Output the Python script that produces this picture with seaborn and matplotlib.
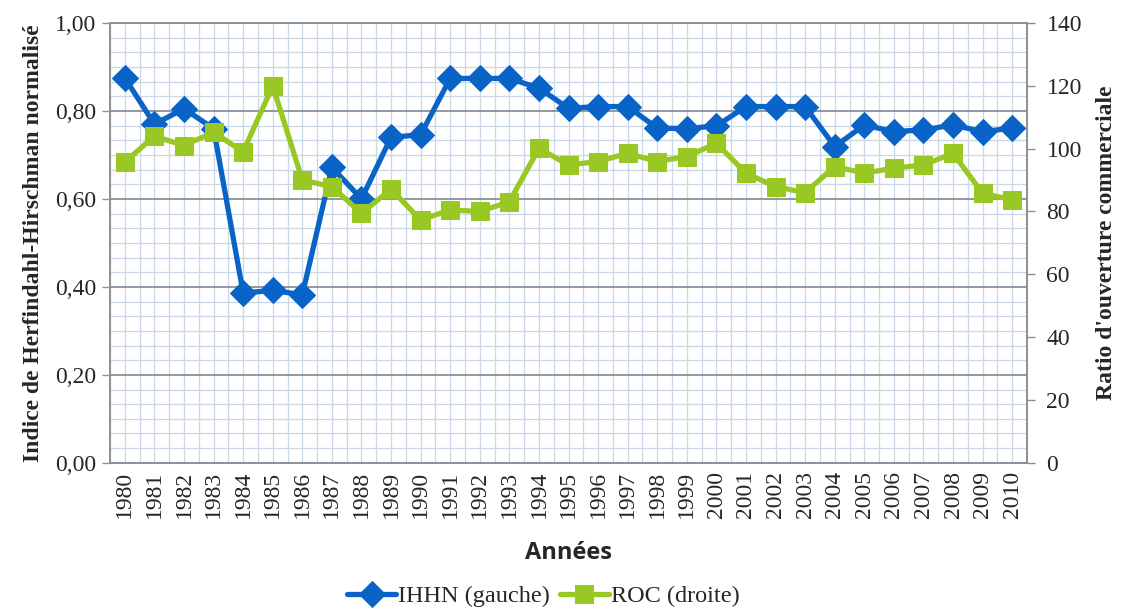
import numpy as np
import pandas as pd
import matplotlib.pyplot as plt
import matplotlib.ticker as mticker
import seaborn as sns

# Données
annees = list(range(1980, 2011))
ihhn = [0.875, 0.77, 0.805, 0.76, 0.386, 0.392, 0.382, 0.672, 0.600, 0.740,
        0.746, 0.874, 0.874, 0.874, 0.852, 0.806, 0.810, 0.810, 0.761, 0.760,
        0.766, 0.810, 0.810, 0.810, 0.719, 0.768, 0.753, 0.757, 0.768, 0.753,
        0.761]
roc = [95.7, 104.0, 101.0, 105.2, 99.0, 120.0, 90.0, 87.9, 79.4, 87.1,
       77.3, 80.5, 80.0, 83.1, 100.1, 94.8, 95.9, 98.5, 95.9, 97.5,
       101.7, 92.2, 87.9, 86.0, 94.3, 92.2, 93.8, 94.8, 98.5, 85.8,
       83.7]

BLEU = '#0a64c8'
VERT = '#99c824'
GRILLE_MIN = '#c9d7e6'
GRILLE_MAJ = '#8a8f96'

sns.set_theme(style='white')
plt.rcParams['font.family'] = ['Liberation Serif', 'DejaVu Serif']

df = pd.DataFrame({'pos': np.arange(len(annees)), 'IHHN': ihhn, 'ROC': roc})

fig = plt.figure(figsize=(11.23, 6.13), dpi=100)
ax1 = fig.add_axes([0.098, 0.245, 0.8165, 0.7175])
ax2 = ax1.twinx()

sns.lineplot(data=df, x='pos', y='IHHN', ax=ax1, color=BLEU, linewidth=3.8,
             marker='D', markersize=13, markeredgecolor=BLEU, label='IHHN (gauche)',
             legend=False, zorder=5)
sns.lineplot(data=df, x='pos', y='ROC', ax=ax2, color=VERT, linewidth=3.8,
             marker='s', markersize=12.5, markeredgecolor=VERT, label='ROC (droite)',
             legend=False, zorder=5)

# axe X : étiquettes au centre, graduations entre les catégories
ax1.set_xlim(-0.5, len(annees) - 0.5)
ax1.xaxis.set_major_locator(mticker.FixedLocator(np.arange(-0.5, len(annees), 1.0)))
ax1.xaxis.set_major_formatter(mticker.NullFormatter())
ax1.xaxis.set_minor_locator(mticker.FixedLocator(np.arange(len(annees))))
ax1.xaxis.set_minor_formatter(mticker.FixedFormatter([str(a) for a in annees]))
ax1.tick_params(axis='x', which='major', length=6, width=1, color=GRILLE_MAJ, direction='out')
ax1.tick_params(axis='x', which='minor', length=0, labelsize=17, rotation=90, pad=6)

# axe Y gauche
ax1.set_ylim(0, 1.0)
ax1.yaxis.set_major_locator(mticker.MultipleLocator(0.2))
ax1.yaxis.set_minor_locator(mticker.MultipleLocator(1 / 30))
ax1.yaxis.set_major_formatter(mticker.FuncFormatter(lambda v, p: f'{v:.2f}'.replace('.', ',')))
ax1.tick_params(axis='y', which='major', length=6, width=1, color=GRILLE_MAJ,
                direction='out', labelsize=17, pad=4)
ax1.tick_params(axis='y', which='minor', length=0)

ax1.grid(which='minor', axis='both', color=GRILLE_MIN, linewidth=0.9)
ax1.grid(which='major', axis='x', color=GRILLE_MIN, linewidth=0.9)
ax1.grid(which='major', axis='y', color=GRILLE_MAJ, linewidth=1.3)
ax1.set_axisbelow(True)

# axe Y droit
ax2.set_ylim(0, 140)
ax2.yaxis.set_major_locator(mticker.MultipleLocator(20))
ax2.tick_params(axis='y', which='major', length=6, width=1, color=GRILLE_MAJ,
                direction='out', labelsize=17, pad=8)
ax2.grid(False)

for ax in (ax1, ax2):
    for s in ax.spines.values():
        s.set_color(GRILLE_MAJ)
        s.set_linewidth(1.2)

ax1.set_xlabel('Années', fontsize=17, fontweight='bold', family='Open Sans', labelpad=16)
ax1.set_ylabel('Indice de Herfindahl-Hirschman normalisé', fontsize=17, fontweight='bold', labelpad=8)
ax2.set_ylabel("Ratio d'ouverture commerciale", fontsize=17, fontweight='bold', labelpad=10)

h1, l1 = ax1.get_legend_handles_labels()
h2, l2 = ax2.get_legend_handles_labels()
fig.legend(h1 + h2, l1 + l2, loc='center', bbox_to_anchor=(0.484, 0.027), ncol=2,
           frameon=False, fontsize=17.5, handlelength=2.0, columnspacing=0.4,
           handletextpad=0.1, borderpad=0)

fig.savefig('out.png', dpi=100, facecolor='white')
